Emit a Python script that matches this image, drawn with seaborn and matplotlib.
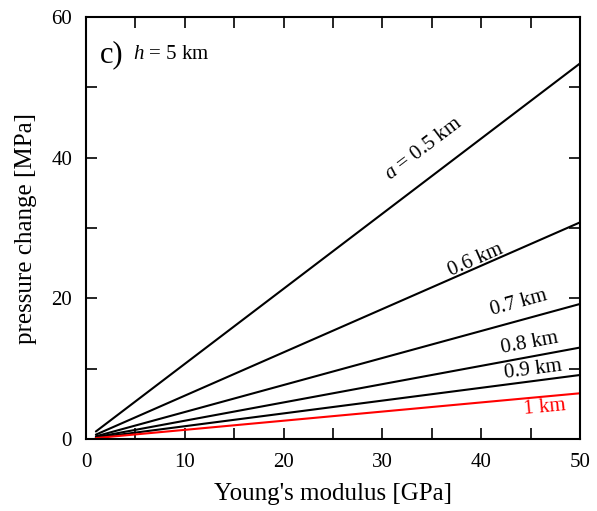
import numpy as np
import pandas as pd
import matplotlib.pyplot as plt
import seaborn as sns
from matplotlib.ticker import MultipleLocator

# chart data
youngs = [1, 50]                      # GPa
radii = ["0.5", "0.6", "0.7", "0.8", "0.9", "1"]  # km
p_at_1 = [1.07, 0.62, 0.38, 0.26, 0.18, 0.13]     # MPa at E = 1 GPa
p_at_50 = [53.4, 30.8, 19.2, 13.0, 9.1, 6.5]      # MPa at E = 50 GPa

label_text = ["$a$ = 0.5 km", "0.6 km", "0.7 km", "0.8 km", "0.9 km", "1 km"]
label_x = [34.2, 39.4, 43.8, 44.9, 45.3, 46.4]
label_y = [41.3, 25.4, 19.3, 13.6, 9.8, 4.5]

rows = []
for r, p0, p1 in zip(radii, p_at_1, p_at_50):
    rows.append({"E": youngs[0], "dP": p0, "a": r})
    rows.append({"E": youngs[1], "dP": p1, "a": r})
df = pd.DataFrame(rows)

sns.set_style("ticks")
plt.rcParams["font.family"] = ["Liberation Serif", "DejaVu Serif"]
plt.rcParams["mathtext.fontset"] = "custom"
plt.rcParams["mathtext.it"] = "Liberation Serif:italic"
plt.rcParams["mathtext.rm"] = "Liberation Serif"
plt.rcParams["text.color"] = "black"
plt.rcParams["axes.labelcolor"] = "black"
plt.rcParams["xtick.color"] = "black"
plt.rcParams["ytick.color"] = "black"
plt.rcParams["axes.edgecolor"] = "black"

palette = {r: "black" for r in radii}
palette["1"] = "red"

fig = plt.figure(figsize=(5.97, 5.11), dpi=100)
ax = fig.add_axes([86 / 597, 72 / 511, 494 / 597, 422 / 511])
sns.lineplot(data=df, x="E", y="dP", hue="a", palette=palette, legend=False,
             linewidth=1.5, ax=ax)

ax.set_xlim(0, 50)
ax.set_ylim(0, 60)
ax.xaxis.set_major_locator(MultipleLocator(10))
ax.xaxis.set_minor_locator(MultipleLocator(5))
ax.yaxis.set_major_locator(MultipleLocator(20))
ax.yaxis.set_minor_locator(MultipleLocator(10))
ax.tick_params(which="both", direction="in", top=True, right=True,
               length=8, width=1.2, labelsize=15, pad=10)
for s in ax.spines.values():
    s.set_linewidth(1.5)

ax.set_xlabel("Young's modulus [GPa]", fontsize=18, labelpad=8)
ax.set_ylabel("pressure change [MPa]", fontsize=18, labelpad=10)

# rotate labels along their lines (angle in screen space)
fig.canvas.draw()
for i, (txt, x, y) in enumerate(zip(label_text, label_x, label_y)):
    p0 = ax.transData.transform((youngs[0], p_at_1[i]))
    p1 = ax.transData.transform((youngs[1], p_at_50[i]))
    ang = np.degrees(np.arctan2(p1[1] - p0[1], p1[0] - p0[0]))
    ax.text(x, y, txt, rotation=ang, rotation_mode="anchor", ha="center",
            va="center", fontsize=15, color="red" if i == 5 else "black")

ax.text(0.028, 0.91, "c)", transform=ax.transAxes, fontsize=22, va="center")
ax.text(0.095, 0.91, "$h$ = 5 km", transform=ax.transAxes, fontsize=15, va="center")

fig.savefig("out.png", dpi=100)
